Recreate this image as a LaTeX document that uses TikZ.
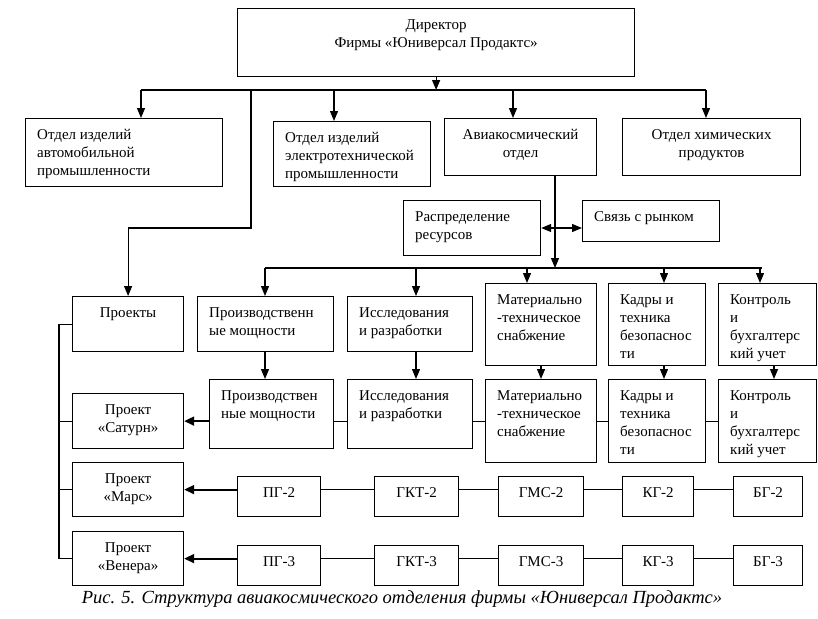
\documentclass[tikz,border=0pt]{standalone}
\usepackage{fontspec}
\setmainfont{Liberation Serif}
\usetikzlibrary{arrows.meta}
\tikzset{
  box/.style={draw, line width=1.2pt, inner sep=0pt},
  lt/.style={anchor=north west, align=left, inner sep=0pt},
  ct/.style={anchor=north, align=center, inner sep=0pt},
  ln/.style={line width=1.2pt},
  arr/.style={ln, -{Triangle[length=10pt,width=8pt]}},
  harr/.style={line width=1.8pt, -{Triangle[length=10pt,width=9pt]}},
  darr/.style={ln, {Triangle[length=10pt,width=8pt]}-{Triangle[length=10pt,width=8pt]}},
}
\newcommand\mkbox[5]{%
  \pgfmathsetmacro\bw{#4-#2}\pgfmathsetmacro\bh{#5-#3}%
  \node[box, minimum width=\bw pt, minimum height=\bh pt, anchor=north west] (#1) at (#2,#3) {};}
\newcommand\ltxt[2]{\node[lt] at ([xshift=12pt,yshift=-9pt]#1.north west) {\rule{0pt}{12pt}#2};}
\newcommand\ctxt[2]{\node[ct] at ([yshift=-9pt]#1.north) {\rule{0pt}{12pt}#2};}
\begin{document}
\begin{tikzpicture}[x=1pt,y=-1pt,font=\fontsize{15}{18}\selectfont]
\useasboundingbox (0,0) rectangle (818,618);
% row 0
\mkbox{dir}{237}{8}{634}{76}
\ctxt{dir}{Директор\\Фирмы «Юниверсал Продактс»}
% row 1
\mkbox{au}{25}{118}{222}{186}
\ltxt{au}{Отдел изделий\\автомобильной\\промышленности}
\mkbox{el}{273}{121}{430}{186}
\ltxt{el}{Отдел изделий\\электротехнической\\промышленности}
\mkbox{av}{444}{118}{596}{175}
\ctxt{av}{Авиакосмический\\отдел}
\mkbox{ch}{622}{118}{800}{175}
\ctxt{ch}{Отдел химических\\продуктов}
% support
\mkbox{rr}{403}{200}{540}{255}
\ltxt{rr}{Распределение\\ресурсов}
\mkbox{sv}{582}{200}{719}{241}
\ltxt{sv}{Связь с рынком}
% row 2
\mkbox{pr}{72}{296}{183}{351}
\ctxt{pr}{Проекты}
\mkbox{pm1}{197}{296}{333}{351}
\ltxt{pm1}{Производственн\\ые мощности}
\mkbox{ir1}{347}{296}{472}{351}
\ltxt{ir1}{Исследования\\и разработки}
\mkbox{mt1}{485}{283}{596}{365}
\ltxt{mt1}{Материально\\-техническое\\снабжение}
\mkbox{kd1}{608}{283}{705}{365}
\ltxt{kd1}{Кадры и\\техника\\безопаснос\\ти}
\mkbox{kn1}{718}{283}{816}{365}
\ltxt{kn1}{Контроль\\и\\бухгалтерс\\кий учет}
% row 3
\mkbox{sa}{72}{393}{183}{448}
\ctxt{sa}{Проект\\«Сатурн»}
\mkbox{pm2}{209}{379}{333}{448}
\ltxt{pm2}{Производствен\\ные мощности}
\mkbox{ir2}{347}{379}{472}{448}
\ltxt{ir2}{Исследования\\и разработки}
\mkbox{mt2}{485}{379}{596}{462}
\ltxt{mt2}{Материально\\-техническое\\снабжение}
\mkbox{kd2}{608}{379}{705}{462}
\ltxt{kd2}{Кадры и\\техника\\безопаснос\\ти}
\mkbox{kn2}{718}{379}{816}{462}
\ltxt{kn2}{Контроль\\и\\бухгалтерс\\кий учет}
% row 4
\mkbox{ma}{72}{462}{183}{516}
\ctxt{ma}{Проект\\«Марс»}
\mkbox{pga}{237}{476}{320}{516}\ctxt{pga}{ПГ-2}
\mkbox{gka}{374}{476}{458}{516}\ctxt{gka}{ГКТ-2}
\mkbox{gma}{498}{476}{583}{516}\ctxt{gma}{ГМС-2}
\mkbox{kga}{622}{476}{693}{516}\ctxt{kga}{КГ-2}
\mkbox{bga}{733}{476}{802}{516}\ctxt{bga}{БГ-2}
% row 5
\mkbox{ve}{72}{531}{183}{585}
\ctxt{ve}{Проект\\«Венера»}
\mkbox{pgb}{237}{545}{320}{585}\ctxt{pgb}{ПГ-3}
\mkbox{gkb}{374}{545}{458}{585}\ctxt{gkb}{ГКТ-3}
\mkbox{gmb}{498}{545}{583}{585}\ctxt{gmb}{ГМС-3}
\mkbox{kgb}{622}{545}{693}{585}\ctxt{kgb}{КГ-3}
\mkbox{bgb}{733}{545}{802}{585}\ctxt{bgb}{БГ-3}
% connectors: top bus
\coordinate (b1l) at (141,90);
\coordinate (b1r) at (706,90);
\draw[ln] (b1l) -- (b1r);
\draw[arr] (dir.south) -- (dir.south |- b1l);
\draw[arr] (b1l) -- (141,0 |- au.north);
\draw[arr] (334,90) -- (334,0 |- el.north);
\draw[arr] (513,90) -- (513,0 |- av.north);
\draw[arr] (b1r) -- (706,0 |- ch.north);
\coordinate (br) at (251,90);
\draw[arr] (br) |- (pr.north |- 0,228) -- (pr.north);
% aerospace branch
\coordinate (b2) at (555,268);
\coordinate (m) at (555,228);
\draw[arr] (av.south -| b2) -- (b2);
\draw[darr] (rr.east |- m) -- (sv.west |- m);
\draw[ln] (265,268) -- (762,268);
\draw[arr] (265,268) -- (265,0 |- pm1.north);
\draw[arr] (416,268) -- (416,0 |- ir1.north);
\draw[arr] (527,268) -- (527,0 |- mt1.north);
\draw[arr] (664,268) -- (664,0 |- kd1.north);
\draw[arr] (760,268) -- (760,0 |- kn1.north);
% row 2 -> row 3
\draw[arr] (265,0 |- pm1.south) -- (265,0 |- pm2.north);
\draw[arr] (416,0 |- ir1.south) -- (416,0 |- ir2.north);
\draw[arr] (541,0 |- mt1.south) -- (541,0 |- mt2.north);
\draw[arr] (664,0 |- kd1.south) -- (664,0 |- kd2.north);
\draw[arr] (774,0 |- kn1.south) -- (774,0 |- kn2.north);
% row 3 chain
\draw[harr] (pm2.west |- sa.east) -- (sa.east);
\draw[ln] (pm2.east |- sa.east) -- (ir2.west |- sa.east);
\draw[ln] (ir2.east |- sa.east) -- (mt2.west |- sa.east);
\draw[ln] (mt2.east |- sa.east) -- (kd2.west |- sa.east);
\draw[ln] (kd2.east |- sa.east) -- (kn2.west |- sa.east);
% row 4 chain
\draw[harr] (pga.west |- ma.east) -- (ma.east);
\draw[ln] (pga.east |- ma.east) -- (gka.west |- ma.east);
\draw[ln] (gka.east |- ma.east) -- (gma.west |- ma.east);
\draw[ln] (gma.east |- ma.east) -- (kga.west |- ma.east);
\draw[ln] (kga.east |- ma.east) -- (bga.west |- ma.east);
% row 5 chain
\draw[harr] (pgb.west |- ve.east) -- (ve.east);
\draw[ln] (pgb.east |- ve.east) -- (gkb.west |- ve.east);
\draw[ln] (gkb.east |- ve.east) -- (gmb.west |- ve.east);
\draw[ln] (gmb.east |- ve.east) -- (kgb.west |- ve.east);
\draw[ln] (kgb.east |- ve.east) -- (bgb.west |- ve.east);
% left bracket
\coordinate (lb) at (59,0);
\draw[ln] (pr.west) -- (lb |- pr.west) -- (lb |- ve.west) -- (ve.west);
\draw[ln] (lb |- sa.west) -- (sa.west);
\draw[ln] (lb |- ma.west) -- (ma.west);
% caption
\node[anchor=base, inner sep=0pt, font=\itshape\fontsize{18.5}{20}\selectfont] (cap) at (402,603) {Рис. 5. Структура авиакосмического отделения фирмы «Юниверсал Продактс»};
\end{tikzpicture}
\end{document}
